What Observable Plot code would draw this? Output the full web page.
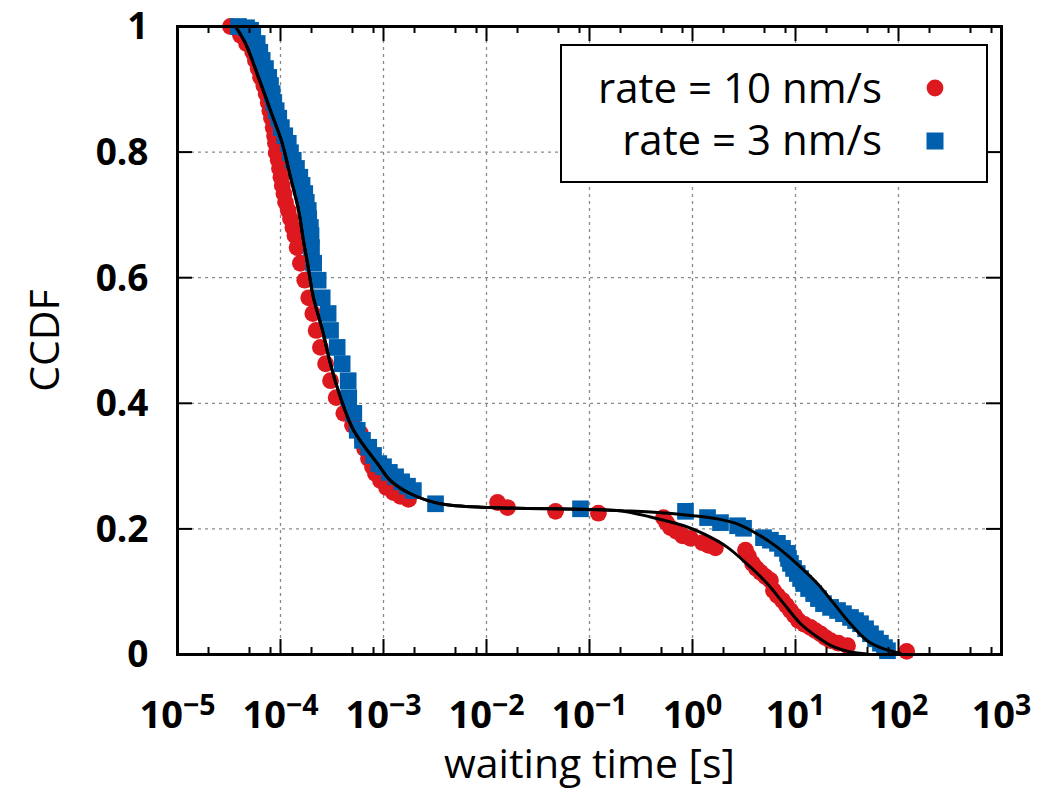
<!DOCTYPE html>
<html><head><meta charset="utf-8">
<script src="https://cdn.jsdelivr.net/npm/d3@7"></script>
<script src="https://cdn.jsdelivr.net/npm/@observablehq/plot@0.6"></script>
<style>body{margin:0;background:#fff;} #chart{width:1048px;height:792px;}</style>
</head><body><div id="chart"></div>
<script>
// ---- data (waiting time in s, CCDF) ----
const rate10_t = [3.27e-5,4.09e-5,4.68e-5,5.38e-5,5.71e-5,6.07e-5,6.40e-5,6.89e-5,7.26e-5,7.60e-5,7.87e-5,8.18e-5,8.49e-5,8.75e-5,8.93e-5,9.08e-5,9.51e-5,9.78e-5,1.01e-4,1.04e-4,1.08e-4,1.12e-4,1.19e-4,1.25e-4,1.32e-4,1.38e-4,1.45e-4,1.56e-4,1.72e-4,1.88e-4,2.06e-4,2.22e-4,2.44e-4,2.74e-4,3.06e-4,3.47e-4,4.12e-4,5.00e-4,5.98e-4,6.25e-4,6.55e-4,7.15e-4,7.82e-4,8.36e-4,9.35e-4,1.07e-3,1.25e-3,1.46e-3,1.75e-3,1.28e-2,1.60e-2,4.68e-2,0.122,0.522,0.560,0.611,0.700,0.80,0.957,1.25,1.43,1.67,3.27,3.50,3.83,4.18,4.57,5.12,5.71,6.11,6.68,7.48,8.18,8.93,9.78,10.7,12.2,14.0,15.6,17.5,19.5,21.9,26.1,32.0,120];
const rate10_ccdf = [1.000,0.986,0.973,0.959,0.946,0.933,0.919,0.906,0.893,0.879,0.866,0.854,0.839,0.826,0.814,0.799,0.787,0.774,0.760,0.747,0.734,0.720,0.707,0.694,0.680,0.667,0.648,0.623,0.596,0.568,0.543,0.516,0.489,0.463,0.436,0.409,0.384,0.365,0.352,0.339,0.328,0.312,0.299,0.288,0.277,0.266,0.258,0.252,0.247,0.242,0.234,0.228,0.225,0.218,0.210,0.202,0.196,0.189,0.185,0.178,0.174,0.170,0.166,0.156,0.145,0.137,0.131,0.124,0.118,0.102,0.094,0.086,0.078,0.070,0.062,0.054,0.048,0.043,0.038,0.033,0.027,0.022,0.018,0.014,0.005];
const rate3_t = [3.91e-5,4.68e-5,5.12e-5,5.38e-5,5.94e-5,6.30e-5,6.64e-5,7.15e-5,7.69e-5,8.0e-5,8.30e-5,8.61e-5,9.08e-5,9.62e-5,1.02e-4,1.10e-4,1.19e-4,1.25e-4,1.33e-4,1.43e-4,1.54e-4,1.62e-4,1.72e-4,1.78e-4,1.86e-4,1.88e-4,1.95e-4,1.98e-4,2.00e-4,2.10e-4,2.32e-4,2.54e-4,2.90e-4,3.06e-4,3.55e-4,3.97e-4,4.54e-4,4.60e-4,5.15e-4,5.56e-4,6.25e-4,7.19e-4,8.0e-4,9.0e-4,1.0e-3,1.14e-3,1.31e-3,1.50e-3,1.71e-3,1.95e-3,3.20e-3,8.18e-2,0.855,1.40,1.87,2.74,3.13,4.89,5.71,6.68,7.48,8.36,8.55,8.93,9.57,10.4,11.2,12.0,13.4,15.0,16.7,18.7,21.9,25.6,29.2,34.2,38.3,42.8,47.9,53.5,59.8,66.8,73.1,78.2];
const rate3_ccdf = [1.000,0.998,0.994,0.986,0.973,0.959,0.946,0.933,0.919,0.906,0.893,0.879,0.866,0.854,0.839,0.826,0.814,0.799,0.787,0.774,0.760,0.747,0.734,0.720,0.707,0.694,0.680,0.667,0.648,0.623,0.596,0.568,0.543,0.516,0.489,0.463,0.436,0.409,0.384,0.357,0.341,0.330,0.317,0.304,0.299,0.290,0.283,0.275,0.268,0.261,0.240,0.232,0.228,0.218,0.210,0.205,0.201,0.186,0.182,0.177,0.169,0.161,0.153,0.145,0.137,0.129,0.121,0.113,0.105,0.097,0.089,0.081,0.075,0.070,0.065,0.059,0.054,0.049,0.041,0.033,0.025,0.018,0.011,0.006];
const fit10_t = [3.66e-5,4.57e-5,6.11e-5,8.0e-5,1.04e-4,1.25e-4,1.50e-4,1.67e-4,1.83e-4,2.09e-4,2.56e-4,3.05e-4,3.83e-4,5.12e-4,8.75e-4,1.17e-3,1.83e-3,3.57e-3,1.09e-2,0.102,0.200,0.391,0.824,1.29,2.17,3.66,5.31,7.69,11.2,16.3,23.6,34.2,49.7];
const fit10_ccdf = [1.0,0.973,0.919,0.866,0.814,0.760,0.707,0.659,0.623,0.568,0.516,0.463,0.409,0.357,0.304,0.277,0.256,0.240,0.234,0.231,0.229,0.219,0.205,0.192,0.171,0.139,0.113,0.081,0.049,0.028,0.012,0.004,0.001];
const fit3_t = [3.66e-5,4.57e-5,6.11e-5,8.0e-5,1.04e-4,1.25e-4,1.50e-4,1.67e-4,1.83e-4,2.09e-4,2.56e-4,3.05e-4,3.83e-4,5.12e-4,8.75e-4,1.17e-3,1.83e-3,3.57e-3,1.09e-2,0.102,0.200,0.391,1.02,1.74,2.72,4.25,6.64,10.4,16.3,23.6,34.2,49.7,71.9,104];
const fit3_ccdf = [1.0,0.973,0.919,0.866,0.814,0.760,0.707,0.659,0.623,0.568,0.516,0.463,0.409,0.357,0.304,0.277,0.256,0.240,0.234,0.231,0.229,0.227,0.221,0.216,0.208,0.192,0.171,0.144,0.113,0.081,0.049,0.022,0.009,0.002];
const xTickExponents = [-5,-4,-3,-2,-1,0,1,2,3];
const minorMultipliers = [2,5,8];
const yTicks = [0,0.2,0.4,0.6,0.8,1];
const yTickLabels = ["0","0.2","0.4","0.6","0.8","1"];
const seriesNames = ["rate = 10 nm/s","rate = 3 nm/s"];
const seriesColors = ["#dd181f","#0060ad"];

// ---- layout ----
const W = 1048, H = 792, mL = 177, mR = 47, mT = 26, mB = 138;
const plotW = W - mL - mR, plotH = H - mT - mB;
const font = "'Open Sans', Lato, sans-serif";

const zip = (t, c) => t.map((v, i) => ({t: v, c: c[i]}));
const red = zip(rate10_t, rate10_ccdf), blue = zip(rate3_t, rate3_ccdf);
const fit10 = zip(fit10_t, fit10_ccdf), fit3 = zip(fit3_t, fit3_ccdf);
const decades = xTickExponents.map(e => Math.pow(10, e));
const innerDecades = decades.slice(1, -1);
const minors = decades.slice(0, -1).flatMap(d => minorMultipliers.map(m => d * m));
const innerY = yTicks.slice(1, -1);

const chart = Plot.plot({
  width: W, height: H,
  marginLeft: mL, marginRight: mR, marginTop: mT, marginBottom: mB,
  x: {type: "log", domain: [1e-5, 1e3], axis: null},
  y: {domain: [0, 1], axis: null},
  style: {fontFamily: font, background: "white", color: "black"},
  marks: [
    Plot.ruleX(innerDecades, {x: d => d, stroke: "#8a8a8a", strokeWidth: 1.3, strokeDasharray: "3,4"}),
    Plot.ruleY(innerY, {y: d => d, stroke: "#8a8a8a", strokeWidth: 1.3, strokeDasharray: "3,4"}),
    Plot.dot(red, {x: "t", y: "c", symbol: "circle", r: 8.4, fill: seriesColors[0], stroke: "none"}),
    Plot.dot(blue, {x: "t", y: "c", symbol: "square", r: 9.4, fill: seriesColors[1], stroke: "none"}),
    Plot.line(fit10, {x: "t", y: "c", curve: "catmull-rom", stroke: "black", strokeWidth: 3}),
    Plot.line(fit3, {x: "t", y: "c", curve: "catmull-rom", stroke: "black", strokeWidth: 3}),
    Plot.tickX(decades, {x: d => d, insetTop: plotH - 15, stroke: "black", strokeWidth: 2}),
    Plot.tickX(decades, {x: d => d, insetBottom: plotH - 15, stroke: "black", strokeWidth: 2}),
    Plot.tickX(minors, {x: d => d, insetTop: plotH - 7, stroke: "black", strokeWidth: 2}),
    Plot.tickX(minors, {x: d => d, insetBottom: plotH - 7, stroke: "black", strokeWidth: 2}),
    Plot.tickY(yTicks, {y: d => d, insetRight: plotW - 15, stroke: "black", strokeWidth: 2}),
    Plot.tickY(yTicks, {y: d => d, insetLeft: plotW - 15, stroke: "black", strokeWidth: 2}),
    Plot.frame({stroke: "black", strokeWidth: 3}),
    Plot.text(decades, {x: d => d, text: d => "10^" + Math.round(Math.log10(d)), frameAnchor: "bottom", dy: 73, lineAnchor: "bottom", fontSize: 38, fontWeight: "bold", fill: "black"}),
    Plot.text(yTicks, {y: d => d, text: (d, i) => yTickLabels[i], frameAnchor: "left", dx: -29, dy: 1, textAnchor: "end", lineAnchor: "middle", fontSize: 37, fontWeight: "bold", fill: "black"}),
    Plot.text(["waiting time [s]"], {text: d => d, frameAnchor: "bottom", dy: 123, lineAnchor: "bottom", fontSize: 41, fill: "black"}),
    Plot.text(["CCDF"], {text: d => d, frameAnchor: "left", dx: -132, rotate: -90, lineAnchor: "middle", textAnchor: "middle", fontSize: 41, fill: "black"})
  ]
});

// superscript exponents on the x tick labels
d3.select(chart).selectAll("text").each(function() {
  const m = /^10\^(-?\d+)$/.exec(this.textContent);
  if (!m) return;
  const sel = d3.select(this);
  sel.text(null);
  sel.append("tspan").text("10");
  sel.append("tspan").attr("dy", "-0.45em").attr("font-size", "0.75em").text(m[1].replace("-", "\u2212"));
});

// legend box
const lg = d3.select(chart).append("g").attr("font-family", font);
lg.append("rect").attr("x", 561).attr("y", 45).attr("width", 426).attr("height", 137)
  .attr("fill", "white").attr("stroke", "black").attr("stroke-width", 2);
const rows = [103, 155];
seriesNames.forEach((name, i) => {
  lg.append("text").attr("x", 882).attr("y", rows[i]).attr("text-anchor", "end")
    .attr("font-size", 42).attr("fill", "black").text(name);
});
lg.append("circle").attr("cx", 935).attr("cy", 88).attr("r", 8.4).attr("fill", seriesColors[0]);
lg.append("rect").attr("x", 926.5).attr("y", 132.5).attr("width", 17).attr("height", 17).attr("fill", seriesColors[1]);

document.getElementById("chart").appendChild(chart);
</script>
</body></html>
